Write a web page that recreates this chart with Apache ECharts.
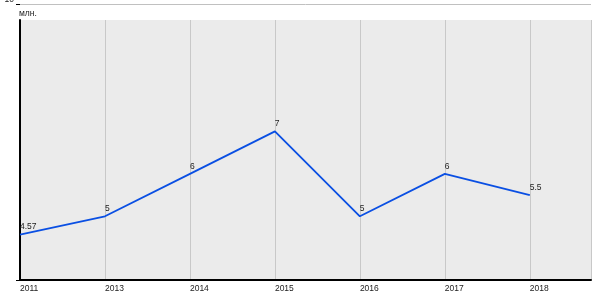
<!DOCTYPE html>
<html><head><meta charset="utf-8">
<script src="https://cdn.jsdelivr.net/npm/echarts@6/dist/echarts.min.js"></script>
<style>html,body{margin:0;padding:0;background:#fff}#c{width:600px;height:300px}</style>
</head><body><div id="c"></div>
<script>
const years = ['2011', '2013', '2014', '2015', '2016', '2017', '2018'];
const values = [4.57, 5, 6, 7, 5, 6, 5.5];
const valueLabels = ['4.57', '5', '6', '7', '5', '6', '5.5'];
const unitLabel = 'млн.';
const yMin = 3.5, yMax = 10;
const xMax = 6.72;

const FONT = 'Liberation Sans, Arial, sans-serif';
const chart = echarts.init(document.getElementById('c'), null, {renderer: 'canvas'});
chart.setOption({
  animation: false,
  title: {text: unitLabel, left: 19, top: 9, padding: 0,
    textStyle: {fontSize: 8.5, fontWeight: 'normal', color: '#222', fontFamily: FONT}},
  grid: [
    {left: 20, right: 9, top: 4, bottom: 20, containLabel: false, outerBoundsMode: 'none'},
    {left: 20, right: 9, top: 20, bottom: 20, show: true, backgroundColor: '#ebebeb', borderWidth: 0,
      containLabel: false, outerBoundsMode: 'none'}
  ],
  xAxis: [
    {gridIndex: 0, type: 'value', min: 0, max: xMax, show: false},
    {gridIndex: 1, type: 'value', min: 0, max: xMax, interval: 1,
      axisLine: {show: true, lineStyle: {color: '#000', width: 2}},
      axisTick: {show: false},
      splitLine: {show: true, lineStyle: {color: '#c8c8c8', width: 1}},
      axisLabel: {margin: 4, align: 'left', fontSize: 8.5, color: '#222', fontFamily: FONT,
        formatter: v => (Number.isInteger(v) && years[v]) ? years[v] : ''}}
  ],
  yAxis: [
    {gridIndex: 0, type: 'value', min: yMin, max: yMax, interval: yMax - yMin,
      axisLine: {show: false},
      axisTick: {show: true, length: 4, lineStyle: {color: '#000'}},
      splitLine: {show: true, lineStyle: {color: '#c0c0c0', width: 1}},
      axisLabel: {margin: 6, fontSize: 8.5, color: '#222', fontFamily: FONT, verticalAlign: 'bottom',
        padding: 0,
        formatter: v => v === yMax ? String(v) : ''}},
    {gridIndex: 1, type: 'value', min: 0, max: 1,
      axisLine: {show: true, lineStyle: {color: '#000', width: 2}},
      axisTick: {show: false}, axisLabel: {show: false}, splitLine: {show: false}}
  ],
  series: [{
    type: 'line', xAxisIndex: 0, yAxisIndex: 0, z: 5,
    data: values.map((v, i) => [i, v]),
    symbol: 'circle', symbolSize: 0.1, showSymbol: true,
    lineStyle: {color: '#0a4fe3', width: 1.8},
    itemStyle: {color: '#0a4fe3'},
    label: {show: true, position: [0, -3], align: 'left', verticalAlign: 'bottom',
      fontSize: 8.5, color: '#222', fontFamily: FONT,
      formatter: p => valueLabels[p.dataIndex]}
  }]
});
</script></body></html>
